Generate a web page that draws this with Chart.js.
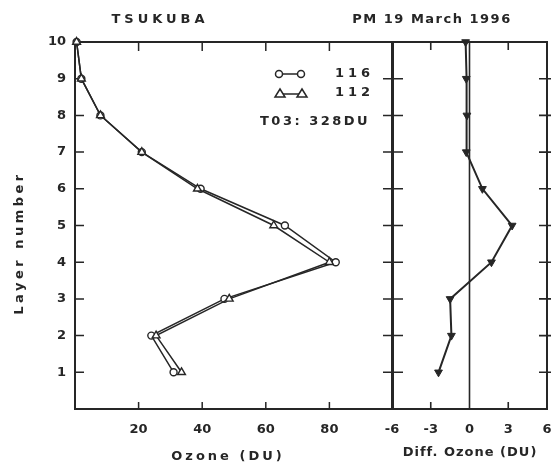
<!DOCTYPE html>
<html>
<head>
<meta charset="utf-8">
<script src="https://cdn.jsdelivr.net/npm/chart.js@4.4.0/dist/chart.umd.min.js"></script>
<style>
  html, body { margin: 0; padding: 0; background: #fff; }
  #wrap { position: relative; width: 554px; height: 464px; }
  #wrap canvas { position: absolute; left: 0; top: 0; }
</style>
</head>
<body>
<div id="wrap">
  <canvas id="chart-ozone" width="554" height="464"></canvas>
  <canvas id="chart-diff" width="554" height="464"></canvas>
</div>
<script>
const layers     = [1, 2, 3, 4, 5, 6, 7, 8, 9, 10];
const ozone116   = [31, 24, 47, 82, 66, 39.5, 21, 8, 2, 0.5];
const ozone112   = [33.5, 25.5, 48.5, 80, 62.5, 38.5, 21, 8, 2, 0.5];
const diffOzone  = [-2.4, -1.4, -1.5, 1.7, 3.3, 1.0, -0.25, -0.2, -0.25, -0.3];
const ozoneTicks = [20, 40, 60, 80];
const diffTicks  = [-6, -3, 0, 3, 6];
const layerTicks = [1, 2, 3, 4, 5, 6, 7, 8, 9, 10];

const ink = '#262626';
const fontFamily = '"DejaVu Sans", sans-serif';
const tickFont = { family: fontFamily, size: 13, weight: 'bold' };

function spacedText(ctx, str, x, y, spacing, align) {
  ctx.letterSpacing = spacing + 'px';
  ctx.textAlign = align || 'center';
  ctx.fillText(str, x, y);
  ctx.letterSpacing = '0px';
}

function pts(xs) {
  return layers.map((l, i) => ({ x: xs[i], y: l }));
}

// keep the x scales from pushing the plot area in for their end labels
function fitX(s) {
  s.height = 55;
  s.paddingLeft = 0;
  s.paddingRight = 0;
}

const frameOzone = {
  id: 'frameOzone',
  beforeDatasetsDraw(chart) {
    const { ctx, chartArea: a, scales: { x, y } } = chart;
    ctx.save();
    ctx.strokeStyle = ink;
    ctx.lineWidth = 2;
    ctx.strokeRect(a.left, a.top, a.right - a.left, a.bottom - a.top);
    ctx.lineWidth = 1.5;
    ctx.beginPath();
    layerTicks.slice(0, -1).forEach(l => {
      const py = y.getPixelForValue(l);
      ctx.moveTo(a.left, py); ctx.lineTo(a.left + 9, py);
      ctx.moveTo(a.right - 10, py); ctx.lineTo(a.right + 10, py);
    });
    ozoneTicks.forEach(v => {
      const px = x.getPixelForValue(v);
      ctx.moveTo(px, a.bottom); ctx.lineTo(px, a.bottom - 7);
      ctx.moveTo(px, a.top); ctx.lineTo(px, a.top + 9);
    });
    ctx.stroke();
    ctx.restore();
  },
  afterDraw(chart) {
    const { ctx } = chart;
    ctx.save();
    ctx.fillStyle = ink;
    ctx.strokeStyle = ink;
    ctx.font = 'bold 13px ' + fontFamily;
    ctx.textBaseline = 'middle';
    spacedText(ctx, 'TSUKUBA', 160, 20, 4);
    spacedText(ctx, 'PM 19 March 1996', 432, 20, 1.5);
    spacedText(ctx, 'Ozone (DU)', 228, 457, 3);
    spacedText(ctx, 'Diff. Ozone (DU)', 470, 453, 1);

    // legend
    ctx.lineWidth = 1.5;
    ctx.beginPath(); ctx.moveTo(279, 74); ctx.lineTo(301, 74); ctx.stroke();
    [279, 301].forEach(cx => {
      ctx.beginPath(); ctx.arc(cx, 74, 3.5, 0, Math.PI * 2);
      ctx.fillStyle = '#fff'; ctx.fill(); ctx.stroke();
    });
    ctx.beginPath(); ctx.moveTo(280, 94); ctx.lineTo(302, 94); ctx.stroke();
    [280, 302].forEach(cx => {
      ctx.beginPath();
      ctx.moveTo(cx, 89); ctx.lineTo(cx + 5, 97); ctx.lineTo(cx - 5, 97); ctx.closePath();
      ctx.fillStyle = '#fff'; ctx.fill(); ctx.stroke();
    });
    ctx.fillStyle = ink;
    spacedText(ctx, '116', 335, 74, 4, 'left');
    spacedText(ctx, '112', 335, 93, 4, 'left');
    spacedText(ctx, 'T03: 328DU', 260, 122, 2.5, 'left');

    // y axis title
    ctx.translate(20, 243);
    ctx.rotate(-Math.PI / 2);
    spacedText(ctx, 'Layer number', 0, 0, 3.5);
    ctx.restore();
  }
};

const frameDiff = {
  id: 'frameDiff',
  beforeDatasetsDraw(chart) {
    const { ctx, chartArea: a, scales: { x, y } } = chart;
    ctx.save();
    ctx.strokeStyle = ink;
    ctx.lineWidth = 2;
    ctx.strokeRect(a.left, a.top, a.right - a.left, a.bottom - a.top);
    const zx = x.getPixelForValue(0);
    ctx.lineWidth = 1.6;
    ctx.beginPath();
    ctx.moveTo(zx, a.top); ctx.lineTo(zx, a.bottom);
    [-3, 3].forEach(v => {
      const px = x.getPixelForValue(v);
      ctx.moveTo(px, a.bottom); ctx.lineTo(px, a.bottom - 7);
      ctx.moveTo(px, a.top); ctx.lineTo(px, a.top + 8);
    });
    layerTicks.slice(0, -1).forEach(l => {
      const py = y.getPixelForValue(l);
      ctx.moveTo(a.right - 8, py); ctx.lineTo(a.right + 4, py);
    });
    ctx.stroke();
    ctx.restore();
  }
};

const commonPlugins = {
  legend: { display: false },
  tooltip: { enabled: false },
  title: { display: false }
};

new Chart(document.getElementById('chart-ozone'), {
  type: 'scatter',
  data: {
    datasets: [
      {
        label: '112', data: pts(ozone112), showLine: true, clip: false,
        borderColor: ink, borderWidth: 1.5, tension: 0,
        pointStyle: 'triangle', pointRadius: 4.5,
        pointBackgroundColor: '#fff', pointBorderColor: ink, pointBorderWidth: 1.4
      },
      {
        label: '116', data: pts(ozone116), showLine: true, clip: false,
        borderColor: ink, borderWidth: 1.5, tension: 0,
        pointStyle: 'circle', pointRadius: 3.5,
        pointBackgroundColor: '#fff', pointBorderColor: ink, pointBorderWidth: 1.4
      }
    ]
  },
  options: {
    responsive: false, animation: false, devicePixelRatio: 1,
    layout: { padding: { left: 0, top: 42, right: 161, bottom: 0 } },
    plugins: commonPlugins,
    scales: {
      x: {
        type: 'linear', min: 0, max: 100,
        ticks: {
          stepSize: 20, autoSkip: false, maxRotation: 0, padding: 13,
          color: ink, font: tickFont,
          callback: v => ozoneTicks.includes(v) ? String(v) : ''
        },
        grid: { display: false, drawTicks: false },
        border: { display: false },
        afterFit: fitX
      },
      y: {
        type: 'linear', min: 0, max: 10,
        ticks: {
          stepSize: 1, autoSkip: false, padding: 9,
          color: ink, font: tickFont,
          callback: v => layerTicks.includes(v) ? String(v) : ''
        },
        grid: { display: false, drawTicks: false },
        border: { display: false },
        afterFit: s => { s.width = 75; }
      }
    }
  },
  plugins: [frameOzone]
});

new Chart(document.getElementById('chart-diff'), {
  type: 'scatter',
  data: {
    datasets: [
      {
        label: 'diff', data: pts(diffOzone), showLine: true, clip: false,
        borderColor: ink, borderWidth: 2, tension: 0,
        pointStyle: 'triangle', rotation: 180, pointRadius: 4.5,
        pointBackgroundColor: ink, pointBorderColor: ink, pointBorderWidth: 1
      }
    ]
  },
  options: {
    responsive: false, animation: false, devicePixelRatio: 1,
    layout: { padding: { left: 392, top: 42, right: 7, bottom: 0 } },
    plugins: commonPlugins,
    scales: {
      x: {
        type: 'linear', min: -6, max: 6,
        ticks: {
          stepSize: 3, autoSkip: false, maxRotation: 0, padding: 13,
          color: ink, font: tickFont,
          callback: v => diffTicks.includes(v) ? String(v) : ''
        },
        grid: { display: false, drawTicks: false },
        border: { display: false },
        afterFit: fitX
      },
      y: { type: 'linear', min: 0, max: 10, display: false }
    }
  },
  plugins: [frameDiff]
});
</script>
</body>
</html>
